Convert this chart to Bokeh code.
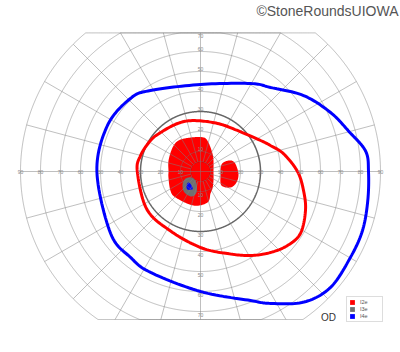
import numpy as np
from bokeh.plotting import figure
from bokeh.models import Legend, LegendItem, Label
from bokeh.core.properties import value
from bokeh.embed import file_html
from bokeh.resources import INLINE

# ---- chart grid definition (degrees of visual field) ----
ring_ecc = [5, 10, 20, 30, 40, 50, 60, 70, 80, 90]
spoke_angles = list(range(0, 360, 15))
horizontal_labels = [10, 20, 30, 40, 50, 60, 70, 80, 90]
vertical_labels = [10, 20, 30, 40, 50, 60, 70]
field_top = 69.3
field_bottom = -74.0

# ---- isopters: meridian angle (deg) and eccentricity (deg) ----
i4e_angle = [0, 7, 14.9, 24.4, 36.4, 50.2, 60.4, 90, 121.7, 133.8, 153.7, 180,
             -145.4, -129, -116.3, -90, -68.8, -62, -51.6, -41.7, -29.8, -20, -9.9]
i4e_ecc = [84, 83.2, 77, 71.4, 64, 54.7, 50.6, 43.5, 47.6, 50.6, 51.9, 51.8,
           54.6, 55.4, 56.3, 60, 69.2, 74.7, 83.3, 87.1, 86.4, 86.2, 84.9]

i2e_angle = [0, 12, 20.4, 27.3, 48, 70.5, 97.8, 115.6, 135.7, 148.2, 165, 180,
             -145, -117, -90, -71.8, -59.2, -49.2, -40.4, -31.8, -20.4, -10.5]
i2e_ecc = [48.5, 42.5, 37.3, 33.8, 27.6, 25.5, 25.7, 26.6, 27.9, 29.4, 31, 31.6,
           32.8, 33.3, 38, 43.2, 48.9, 53.5, 57.1, 58.8, 56, 52.4]

# ---- scotomas (filled areas) ----
i2e_central_angle = [0, 40.2, 56.3, 74.6, 85, 106.4, 125.4, 139.4, 161, 180, -169.4,
                     -147.7, -133.9, -101.6, -77.3, -65.6, -54.8, -34.7]
i2e_central_ecc = [6.5, 8.5, 10.8, 15, 17.1, 17.7, 19, 18.4, 16.9, 16, 16.3,
                   17.8, 18, 17.4, 15.9, 12.1, 10.4, 7.9]

i2e_blind_angle = [21.4, 14.8, -3, -17, -28, -33.7, -11.3, 18.4]
i2e_blind_ecc = [15, 17.6, 19, 18.8, 17, 12.6, 10.2, 11.1]

i3e_scot_angle = [-153.4, -135, -108.4, -100.8, -109.8, -127.3, -142.1, -153.4]
i3e_scot_ecc = [6.7, 4.9, 6.3, 10.7, 13.3, 13.2, 11.4, 8.9]

i4e_scot_angle = [-137.5, -122.7, -114, -125.8, -135]
i4e_scot_ecc = [8.1, 8.3, 9.8, 11.1, 9.9]

legend_names = ["I2e", "I3e", "I4e"]
colors = {"I2e": "#ff0000", "I3e": "#707070", "I4e": "#0000ff"}


def polar(ang, ecc):
    a = np.radians(np.asarray(ang, float))
    e = np.asarray(ecc, float)
    return e * np.cos(a), e * np.sin(a)


def smooth_closed(x, y, n=14):
    P = np.column_stack([x, y])
    N = len(P)
    t = np.linspace(0, 1, n, endpoint=False)[:, None]
    out = []
    for i in range(N):
        p0, p1, p2, p3 = P[i - 1], P[i], P[(i + 1) % N], P[(i + 2) % N]
        pts = 0.5 * ((2 * p1) + (-p0 + p2) * t + (2 * p0 - 5 * p1 + 4 * p2 - p3) * t ** 2
                     + (-p0 + 3 * p1 - 3 * p2 + p3) * t ** 3)
        out.append(pts)
    out = np.vstack(out)
    out = np.vstack([out, out[:1]])
    return out[:, 0], out[:, 1]


p = figure(width=400, height=352, x_range=(-100, 100), y_range=(-90.5, 85.5),
           toolbar_location=None, output_backend="svg", min_border=0)
p.axis.visible = False
p.grid.visible = False
p.outline_line_color = None
p.background_fill_color = "white"
p.border_fill_color = "white"

# filled scotomas
bx, by = smooth_closed(*polar(i2e_central_angle, i2e_central_ecc))
r_red = p.patch(bx, by, fill_color=colors["I2e"], line_color=None)
bx, by = smooth_closed(*polar(i2e_blind_angle, i2e_blind_ecc))
p.patch(bx, by, fill_color=colors["I2e"], line_color=None)
bx, by = smooth_closed(*polar(i3e_scot_angle, i3e_scot_ecc))
r_gray = p.patch(bx, by, fill_color=colors["I3e"], line_color=None)
bx, by = smooth_closed(*polar(i4e_scot_angle, i4e_scot_ecc))
r_blue = p.patch(bx, by, fill_color=colors["I4e"], line_color=None)

# rings
theta = np.linspace(0, 2 * np.pi, 1441)
xs, ys = [], []
for r in ring_ecc:
    if r == 30:
        continue
    xs.append(r * np.cos(theta))
    ys.append(np.clip(r * np.sin(theta), field_bottom, field_top))
p.multi_line(xs, ys, line_color="#808080", line_alpha=0.5, line_width=1)

# spokes
sx, sy = [], []
for a in spoke_angles:
    rad = np.radians(a)
    s = np.sin(rad)
    r0 = 0 if a % 90 == 0 else 5
    if s > 1e-9:
        r1 = min(90, field_top / s)
    elif s < -1e-9:
        r1 = min(90, field_bottom / s)
    else:
        r1 = 90
    sx.append([r0 * np.cos(rad), r1 * np.cos(rad)])
    sy.append([r0 * s, r1 * s])
p.multi_line(sx, sy, line_color="#808080", line_alpha=0.5, line_width=1)

# emphasized 30 degree ring
p.line(30 * np.cos(theta), 30 * np.sin(theta), line_color="#666666", line_width=1.5)

# isopters
ix, iy = smooth_closed(*polar(i2e_angle, i2e_ecc))
p.line(ix, iy, line_color=colors["I2e"], line_width=3)
ix, iy = smooth_closed(*polar(i4e_angle, i4e_ecc))
p.line(ix, iy, line_color=colors["I4e"], line_width=3)

# axis labels
lx = [-v for v in horizontal_labels] + horizontal_labels + [0] * len(vertical_labels) * 2
ly = [0] * len(horizontal_labels) * 2 + [min(v + 1.2, 68.0) for v in vertical_labels] \
     + [-(v + 1.5) for v in vertical_labels]
lt = [str(v) for v in horizontal_labels] * 2 + [str(v) for v in vertical_labels] * 2
p.text(lx, ly, text=lt, text_font=value("Liberation Sans"), text_font_size="5px",
       text_color="#888888", text_align="center", text_baseline="middle")

legend = Legend(items=[LegendItem(label=legend_names[0], renderers=[r_red]),
                       LegendItem(label=legend_names[1], renderers=[r_gray]),
                       LegendItem(label=legend_names[2], renderers=[r_blue])],
                location=(346, 30), glyph_width=6, glyph_height=6, label_height=6,
                label_text_font_size="5.5px", label_text_color="#555555",
                label_text_font="Liberation Sans", label_standoff=5, spacing=1,
                padding=2, margin=0, border_line_color="#bbbbbb",
                background_fill_color="white", background_fill_alpha=1)
p.add_layout(legend)

p.add_layout(Label(x=328, y=35.5, x_units="screen", y_units="screen", text="OD",
                   text_font="Liberation Sans", text_font_size="10px", text_color="#333333",
                   text_align="center", text_baseline="middle"))
p.add_layout(Label(x=398, y=350, x_units="screen", y_units="screen",
                   text="\u00a9StoneRoundsUIOWA", text_font="Liberation Sans",
                   text_font_size="14px", text_color="#555555",
                   text_align="right", text_baseline="top"))

open("out.html", "w").write(file_html(p, INLINE))
